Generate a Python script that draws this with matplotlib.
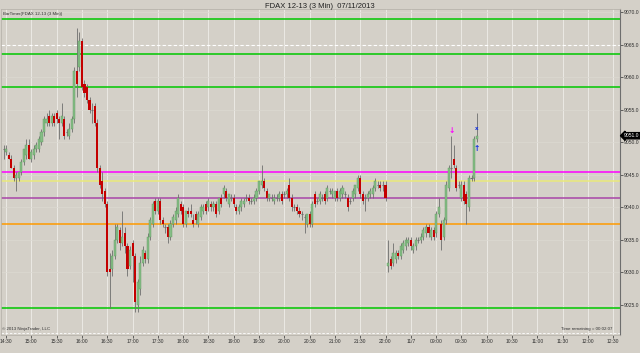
"""
FDAX 12-13 3-minute candles, NinjaTrader style screenshot.
"""

import matplotlib
matplotlib.use("Agg")
import matplotlib.pyplot as plt
from matplotlib.transforms import blended_transform_factory

plt.rcParams["font.family"] = ["Liberation Sans", "DejaVu Sans"]

TITLE = "FDAX 12-13 (3 Min)  07/11/2013"

OPEN = [
    9049.0, 9048.5, 9048.0, 9047.5, 9046.0, 9044.5, 9044.5, 9045.5, 9047.0, 9048.0,
    9049.5, 9047.5, 9048.0, 9049.0, 9049.0, 9050.0, 9051.5, 9053.0, 9054.0, 9053.0,
    9054.0, 9054.5, 9053.5, 9053.0, 9053.5, 9051.5, 9051.0, 9052.0, 9053.5, 9061.0,
    9061.5, 9065.5, 9059.0, 9058.5, 9056.5, 9055.0, 9055.5, 9053.0, 9046.0, 9044.0,
    9042.5, 9040.5, 9030.5, 9030.5, 9032.5, 9035.0, 9036.5, 9034.5, 9036.0, 9034.0,
    9031.0, 9034.5, 9032.5, 9025.0, 9027.5, 9031.5, 9033.0, 9032.0, 9035.5, 9037.5,
    9041.0, 9039.5, 9041.0, 9038.0, 9037.0, 9037.0, 9035.5, 9037.5, 9038.0, 9039.0,
    9040.5, 9040.0, 9037.5, 9039.5, 9039.5, 9038.0, 9039.0, 9037.5, 9038.5, 9039.5,
    9040.5, 9040.0, 9040.5, 9040.0, 9040.5, 9039.5, 9041.5, 9042.0, 9042.5, 9040.5,
    9041.5, 9041.5, 9040.0, 9039.5, 9040.0, 9040.5, 9041.5, 9041.5, 9041.0, 9041.0,
    9041.5, 9042.5, 9043.5, 9044.0, 9042.5, 9041.5, 9041.5, 9041.0, 9041.5, 9041.5,
    9042.0, 9042.0, 9042.0, 9043.5, 9041.5, 9040.0, 9040.0, 9039.5, 9039.0, 9038.5,
    9037.5, 9039.0, 9037.5, 9042.0, 9041.0, 9041.0, 9041.5, 9042.0, 9041.5, 9042.5,
    9042.0, 9041.5, 9042.5, 9041.5, 9042.0, 9042.0, 9041.5, 9041.0, 9041.5, 9042.0,
    9043.0, 9044.5, 9042.0, 9041.5, 9041.5, 9042.0, 9042.0, 9043.0, 9043.5, 9043.5,
    9043.5, 9043.5, 9031.0, 9032.0, 9031.5, 9032.0, 9033.0, 9032.5, 9033.5, 9034.0,
    9034.5, 9035.0, 9033.5, 9034.0, 9035.0, 9035.0, 9035.5, 9036.0, 9037.0, 9035.5,
    9036.5, 9036.0, 9039.0, 9037.5, 9035.5, 9038.0, 9043.0, 9046.0, 9047.5, 9046.0,
    9043.5, 9041.5, 9043.5, 9042.0, 9040.0, 9044.5, 9044.5, 9050.5,
]
HIGH = [
    9049.5, 9049.5, 9048.5, 9048.0, 9046.5, 9045.5, 9045.5, 9047.5, 9049.0, 9050.5,
    9050.5, 9049.0, 9049.5, 9050.0, 9051.0, 9052.0, 9054.0, 9054.5, 9055.0, 9054.5,
    9054.5, 9055.0, 9054.0, 9056.0, 9054.0, 9052.0, 9053.0, 9054.0, 9061.5, 9067.5,
    9067.0, 9066.0, 9059.5, 9059.0, 9057.0, 9056.0, 9056.0, 9053.5, 9046.5, 9045.5,
    9043.0, 9041.0, 9033.0, 9033.5, 9037.5, 9037.5, 9037.0, 9039.5, 9037.0, 9034.5,
    9034.0, 9035.0, 9033.0, 9029.0, 9032.5, 9034.0, 9033.5, 9036.0, 9038.5, 9041.0,
    9041.5, 9041.5, 9041.5, 9038.5, 9037.5, 9037.5, 9038.0, 9039.0, 9040.0, 9042.0,
    9041.0, 9040.5, 9039.5, 9040.0, 9040.5, 9039.0, 9039.5, 9039.5, 9040.5, 9040.5,
    9041.0, 9041.5, 9041.0, 9041.0, 9041.0, 9041.5, 9042.0, 9043.5, 9043.0, 9042.0,
    9042.0, 9042.0, 9040.5, 9040.5, 9041.5, 9041.5, 9042.0, 9042.0, 9041.5, 9042.0,
    9043.0, 9044.0, 9046.5, 9044.5, 9043.0, 9042.0, 9042.0, 9042.0, 9042.0, 9042.5,
    9042.5, 9042.5, 9043.0, 9044.5, 9042.0, 9040.5, 9040.5, 9040.0, 9039.5, 9039.0,
    9039.0, 9039.5, 9041.0, 9042.5, 9041.5, 9042.5, 9042.0, 9042.5, 9043.5, 9043.0,
    9043.0, 9042.5, 9043.0, 9043.0, 9043.5, 9042.5, 9042.0, 9041.5, 9043.0, 9043.5,
    9045.0, 9045.0, 9042.5, 9042.0, 9042.5, 9043.0, 9043.5, 9044.5, 9044.0, 9044.0,
    9044.0, 9044.0, 9035.0, 9032.5, 9034.5, 9033.5, 9033.5, 9034.5, 9035.0, 9035.5,
    9035.5, 9035.5, 9034.5, 9035.5, 9035.5, 9036.0, 9037.0, 9037.5, 9037.5, 9037.0,
    9037.0, 9039.5, 9041.5, 9038.0, 9038.5, 9044.0, 9046.5, 9051.0, 9049.5, 9046.5,
    9044.0, 9044.0, 9044.0, 9042.5, 9045.0, 9045.0, 9051.0, 9054.5,
]
LOW = [
    9047.5, 9048.0, 9047.5, 9046.0, 9044.0, 9042.5, 9044.0, 9045.0, 9046.5, 9047.5,
    9047.5, 9047.0, 9047.5, 9048.5, 9048.5, 9049.5, 9051.0, 9052.5, 9052.5, 9052.5,
    9052.5, 9053.0, 9050.5, 9052.5, 9050.5, 9051.0, 9050.5, 9051.5, 9053.0, 9057.0,
    9061.0, 9058.0, 9057.0, 9056.0, 9054.5, 9053.0, 9052.5, 9045.5, 9043.0, 9041.0,
    9040.0, 9029.5, 9024.5, 9029.5, 9032.0, 9034.5, 9033.5, 9034.0, 9033.0, 9029.5,
    9030.5, 9028.5, 9024.0, 9024.0, 9026.5, 9031.0, 9031.5, 9031.5, 9035.0, 9037.0,
    9039.0, 9039.0, 9037.5, 9037.0, 9036.0, 9034.5, 9035.0, 9037.0, 9037.5, 9038.5,
    9039.0, 9037.0, 9037.0, 9038.5, 9038.5, 9037.0, 9037.5, 9037.0, 9038.0, 9039.0,
    9039.0, 9039.5, 9039.5, 9039.5, 9038.5, 9039.0, 9040.0, 9041.5, 9041.0, 9040.0,
    9041.0, 9040.0, 9039.0, 9039.0, 9039.5, 9040.0, 9041.0, 9040.5, 9040.5, 9040.5,
    9041.0, 9042.0, 9043.0, 9042.5, 9041.0, 9041.0, 9041.0, 9040.5, 9041.0, 9041.0,
    9040.5, 9041.5, 9041.5, 9041.0, 9039.5, 9039.5, 9039.0, 9038.5, 9038.0, 9036.0,
    9037.0, 9037.0, 9037.0, 9040.0, 9040.5, 9040.5, 9041.0, 9040.5, 9041.0, 9042.0,
    9041.5, 9041.0, 9041.0, 9041.0, 9041.5, 9041.5, 9039.5, 9040.5, 9041.0, 9041.5,
    9042.5, 9041.5, 9040.5, 9039.5, 9041.0, 9041.5, 9041.5, 9042.5, 9043.0, 9042.5,
    9042.5, 9041.0, 9030.0, 9030.5, 9031.0, 9031.5, 9032.0, 9032.0, 9033.0, 9033.5,
    9034.0, 9033.5, 9033.0, 9033.5, 9034.5, 9034.5, 9035.0, 9035.5, 9035.5, 9035.0,
    9035.0, 9035.5, 9038.5, 9033.5, 9035.0, 9037.5, 9042.5, 9044.5, 9046.0, 9042.5,
    9043.0, 9041.0, 9040.5, 9037.5, 9039.5, 9044.0, 9044.0, 9050.0,
]
CLOSE = [
    9049.0, 9049.0, 9047.5, 9046.0, 9044.5, 9045.0, 9045.5, 9047.0, 9049.0, 9049.5,
    9047.5, 9048.5, 9049.0, 9049.5, 9050.5, 9051.5, 9053.5, 9053.5, 9053.0, 9054.0,
    9053.0, 9053.5, 9053.0, 9054.0, 9051.0, 9051.5, 9052.0, 9053.5, 9061.0, 9059.0,
    9065.5, 9058.5, 9057.5, 9056.5, 9055.0, 9055.0, 9053.0, 9046.0, 9043.5, 9042.0,
    9040.5, 9030.0, 9030.0, 9032.5, 9035.0, 9037.0, 9034.5, 9035.5, 9034.0, 9030.5,
    9033.5, 9032.5, 9025.5, 9028.5, 9031.5, 9033.5, 9032.0, 9035.5, 9038.0, 9040.5,
    9039.5, 9041.0, 9038.0, 9037.5, 9037.0, 9035.5, 9037.5, 9038.5, 9039.5, 9041.5,
    9039.5, 9037.5, 9039.5, 9039.0, 9039.0, 9037.5, 9038.0, 9039.0, 9040.0, 9040.0,
    9039.5, 9041.0, 9040.0, 9040.5, 9039.0, 9041.5, 9040.5, 9043.0, 9041.5, 9042.0,
    9041.5, 9040.5, 9039.5, 9040.0, 9041.0, 9041.0, 9041.5, 9041.0, 9041.0, 9041.5,
    9042.5, 9044.0, 9044.0, 9043.0, 9041.5, 9042.0, 9041.5, 9041.5, 9041.5, 9042.0,
    9041.0, 9042.0, 9042.5, 9041.5, 9040.0, 9040.0, 9039.5, 9039.0, 9039.0, 9038.5,
    9039.0, 9037.5, 9040.5, 9040.5, 9041.0, 9042.0, 9041.5, 9041.0, 9043.0, 9042.5,
    9042.5, 9042.5, 9041.5, 9042.5, 9043.0, 9042.0, 9040.0, 9041.0, 9042.5, 9043.5,
    9044.5, 9042.0, 9041.0, 9041.5, 9042.0, 9042.5, 9043.0, 9044.0, 9043.5, 9043.0,
    9043.5, 9041.5, 9031.5, 9031.0, 9033.0, 9033.0, 9032.5, 9034.0, 9034.5, 9035.0,
    9035.0, 9034.0, 9034.0, 9035.0, 9035.0, 9035.5, 9036.5, 9037.0, 9036.0, 9036.5,
    9035.5, 9039.0, 9040.0, 9035.0, 9038.0, 9043.5, 9046.0, 9046.0, 9046.5, 9043.0,
    9043.5, 9043.5, 9041.0, 9040.5, 9044.5, 9044.5, 9050.5, 9051.0,
]

TIME_LABELS = ["14:30", "15:00", "15:30", "16:00", "16:30", "17:00", "17:30", "18:00",
               "18:30", "19:00", "19:30", "20:00", "20:30", "21:00", "21:30", "22:00",
               "11/7", "09:00", "09:30", "10:00", "10:30", "11:00", "11:30", "12:00",
               "12:30"]
PRICE_TICKS = [9025.0, 9030.0, 9035.0, 9040.0, 9045.0, 9050.0, 9055.0, 9060.0, 9065.0, 9070.0]

# horizontal levels drawn on the chart
LEVELS = [9069.0, 9063.5, 9058.5, 9045.5, 9044.0, 9041.5, 9037.5, 9024.5]
LEVEL_COLORS = ["#00c800", "#00c800", "#00c800", "#ff00ff", "#eaea7a", "#a845a8",
                "#ff9a00", "#00c800"]
DASHED_LEVEL = 9065.0
LAST_PRICE = 9051.0

# signal markers: (bar, price, glyph, colour, size)
SIGNALS = [(177, 9051.8, "\u2193", "#ff00ff", 5.5),
           (187, 9052.1, "x", "#1030e0", 4.0),
           (187, 9049.0, "\u2191", "#1030e0", 5.5)]

BG      = "#d4d0c8"
UP      = "#86bd86"
UP_EDGE = "#5f9a5f"
DOWN    = "#c40000"
WICK    = "#6e6e6e"
TXT     = "#303030"


def draw_candles(ax):
    for i, (o, h, l, c) in enumerate(zip(OPEN, HIGH, LOW, CLOSE)):
        ax.vlines(i, l, h, color=WICK, linewidth=0.6, zorder=3)
        if c == o:
            ax.hlines(o, i - 0.4, i + 0.4, color=WICK, linewidth=0.8, zorder=4)
            continue
        if c > o:
            ax.bar(i, c - o, bottom=o, width=0.82, color=UP, edgecolor=UP_EDGE,
                   linewidth=0.3, zorder=4)
        else:
            ax.bar(i, o - c, bottom=c, width=0.82, color=DOWN, linewidth=0, zorder=4)


fig = plt.figure(figsize=(6.4, 3.53), dpi=100)
fig.patch.set_facecolor(BG)
ax = fig.add_axes([1 / 640, 18 / 353, 619 / 640, 326 / 353])
ax.set_facecolor(BG)

ax.set_xlim(-1.0, 243.7)
ax.set_ylim(9020.4, 9070.46)

ax.set_xticks(range(1, 1 + 10 * len(TIME_LABELS), 10))
ax.set_xticklabels(TIME_LABELS)
ax.set_yticks(PRICE_TICKS)
ax.set_yticklabels([f"{p:.1f}" for p in PRICE_TICKS])
ax.yaxis.tick_right()
ax.tick_params(axis="both", labelsize=3.6, colors=TXT, length=2, width=0.5, pad=1)

ax.grid(axis="x", color="#ebe9e4", linewidth=0.7, zorder=0)
ax.grid(axis="y", color="#dcd9d2", linewidth=0.5, zorder=0)
ax.set_axisbelow(True)

for side in ("left", "top", "bottom"):
    ax.spines[side].set_color("#b8b4ac")
    ax.spines[side].set_linewidth(0.6)
ax.spines["right"].set_color("#6e6e6e")
ax.spines["right"].set_linewidth(0.8)

ax.axhline(DASHED_LEVEL, color="white", linestyle=(0, (3, 2)), linewidth=0.8, zorder=1)
ax.plot([0, 1], [0.007, 0.007], transform=ax.transAxes, color="white",
        linestyle=(0, (3, 2)), linewidth=0.6)

for lvl, col in zip(LEVELS, LEVEL_COLORS):
    ax.axhline(lvl, color=col, linewidth=1.1, zorder=2)

draw_candles(ax)

for bar, price, glyph, col, size in SIGNALS:
    ax.text(bar, price, glyph, color=col, fontsize=size, fontweight="bold",
            family="DejaVu Sans", ha="center", va="center", zorder=6)

trans = blended_transform_factory(ax.transAxes, ax.transData)
ax.text(1.006, LAST_PRICE, f"{LAST_PRICE:.1f}", transform=trans, fontsize=3.6,
        color="white", va="center", ha="left", zorder=7,
        bbox=dict(boxstyle="larrow,pad=0.12", fc="black", ec="black"))

fig.text(0.5, 0.983, TITLE, ha="center", va="center", fontsize=5.5, color="#202020")
ax.text(0.003, 0.985, "BarTimer(FDAX 12-13 (3 Min))", transform=ax.transAxes,
        fontsize=3.2, color=TXT, ha="left", va="center")
ax.text(0.002, 0.012, "\u00a9 2013 NinjaTrader, LLC", transform=ax.transAxes,
        fontsize=3.2, color=TXT, ha="left", va="bottom")
ax.text(0.988, 0.012, "Time remaining = 00:02:07", transform=ax.transAxes,
        fontsize=3.2, color=TXT, ha="right", va="bottom")

fig.savefig("out.png", dpi=100, facecolor=BG)
